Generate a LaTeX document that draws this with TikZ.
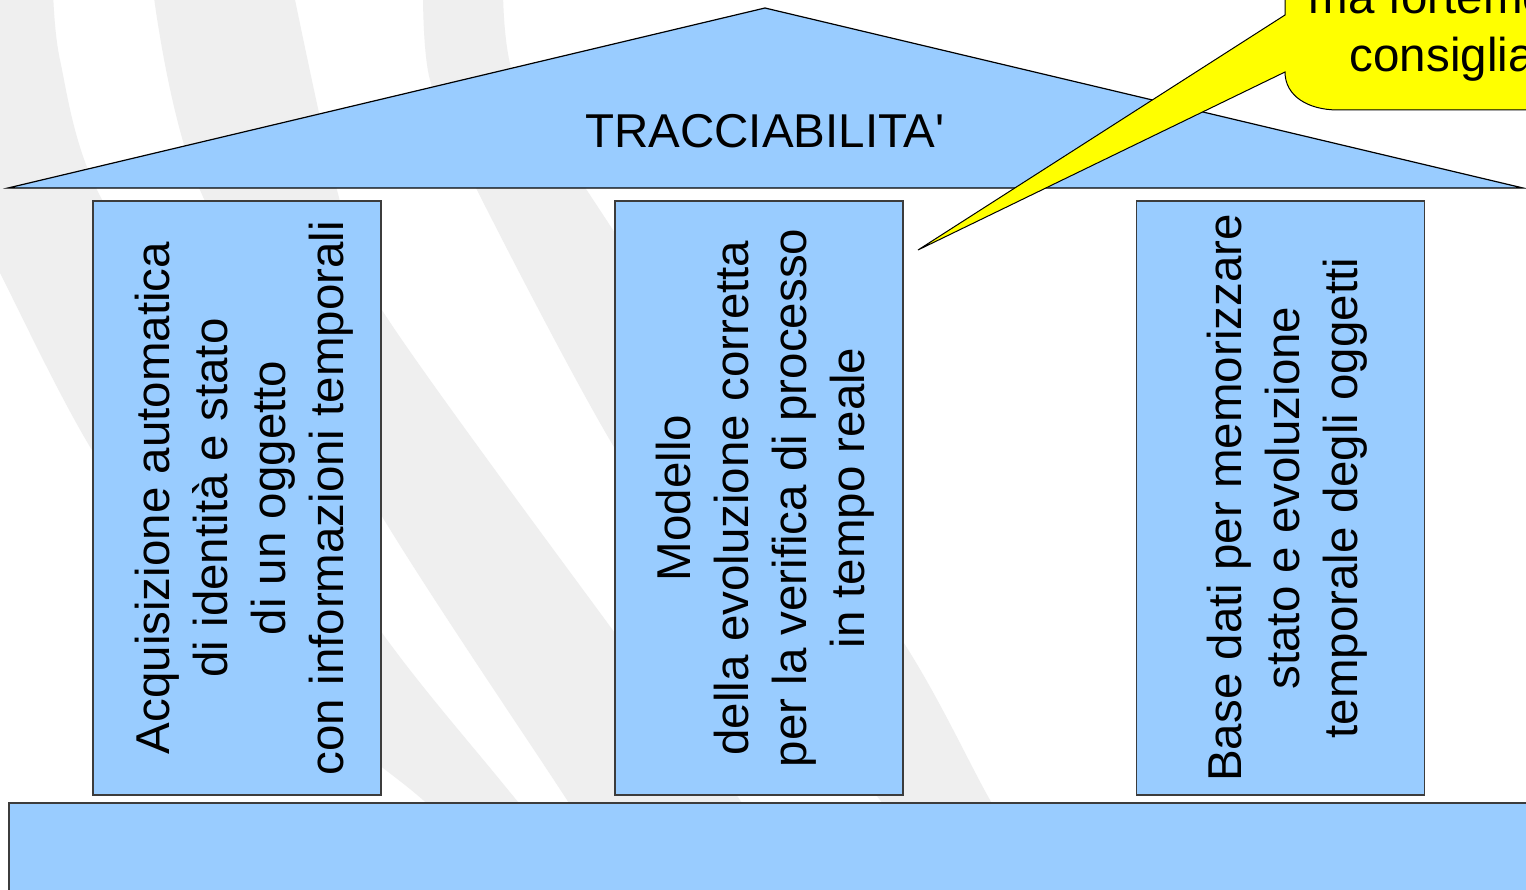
\documentclass[tikz,border=0pt]{standalone}
\usepackage{fontspec}
\setmainfont{Liberation Sans}
\definecolor{roofblue}{HTML}{99CCFF}
\definecolor{bandgrey}{HTML}{EFEFEF}
\definecolor{calloutyellow}{HTML}{FFFF00}
\definecolor{pillarline}{HTML}{3C3C3C}
\newcommand{\pillarfont}{\fontsize{47.5}{58}\selectfont}
\begin{document}
\begin{tikzpicture}[x=1pt,y=-1pt,
  band/.style={fill=bandgrey},
  roof/.style={fill=roofblue, draw=black, line width=1.2pt, line join=miter},
  pillar/.style={draw=pillarline, line width=1.5pt, fill=roofblue,
    minimum width=288pt, minimum height=594pt, inner sep=0pt},
  pillartext/.style={rotate=90, inner sep=0pt, align=center, font=\pillarfont},
  basebox/.style={draw=pillarline, line width=2pt, fill=roofblue},
  callout/.style={fill=calloutyellow, draw=black, line width=1pt, line join=miter},
  titletext/.style={font=\pillarfont, inner sep=0pt},
  callouttext/.style={font=\pillarfont, inner sep=0pt, align=center}]
\useasboundingbox (0,0) rectangle (1526,890);
\begin{scope}
\clip (0,0) rectangle (1526,890);
\fill[white] (0,0) rectangle (1526,890);
% background swooshes
\fill[band] plot[smooth] coordinates {(-150,-10) (-60,150) (0,273) (100,463) (250,660) (423,800) (520,900)}
  -- plot[smooth] coordinates {(600,900) (500,780) (380,630) (230,400) (97,190) (60,60) (53,-10)} -- cycle;
\fill[band] plot[smooth] coordinates {(153,-10) (200,190) (380,513) (567,800) (630,900)}
  -- plot[smooth] coordinates {(800,900) (740,800) (620,640) (380,307) (337,190) (293,-10)} -- cycle;
\fill[band] plot[smooth] coordinates {(423,-10) (430,80) (477,190) (620,457) (760,650) (880,800) (950,900)}
  -- plot[smooth] coordinates {(1050,900) (990,800) (900,637) (720,390) (590,195) (515,80) (503,-10)} -- cycle;
% roof
\draw[roof] (8,188) -- (765,8) -- (1523,188) -- cycle;
\node[titletext] (title) at (765,131) {TRACCIABILITA\textquotesingle};
% pillars
\node[pillar] (p1) at (237,498) {};
\node[pillar] (p2) at (759,498) {};
\node[pillar] (p3) at (1280.5,498) {};
\node[pillartext] (t1) at ([xshift=7pt]p1.center) {Acquisizione automatica\\di identità e stato\\di un oggetto\\con informazioni temporali};
\node[pillartext] (t2) at ([xshift=6pt]p2.center) {Modello\\della evoluzione corretta\\per la verifica di processo\\in tempo reale};
\node[pillartext] (t3) at ([xshift=7pt]p3.center) {Base dati per memorizzare\\stato e evoluzione\\temporale degli oggetti};
% base
\draw[basebox] (9,803) rectangle (1560,930);
% callout
\filldraw[callout] (1285,-60) -- (1285,15) -- (918,250) -- (1285,72)
  .. controls (1285,96) and (1308,110) .. (1338,110) -- (1600,110) -- (1600,-60) -- cycle;
\node[callouttext] (note) at (1462,30.7) {ma fortemente\\consigliato};
\end{scope}
\end{tikzpicture}
\end{document}
